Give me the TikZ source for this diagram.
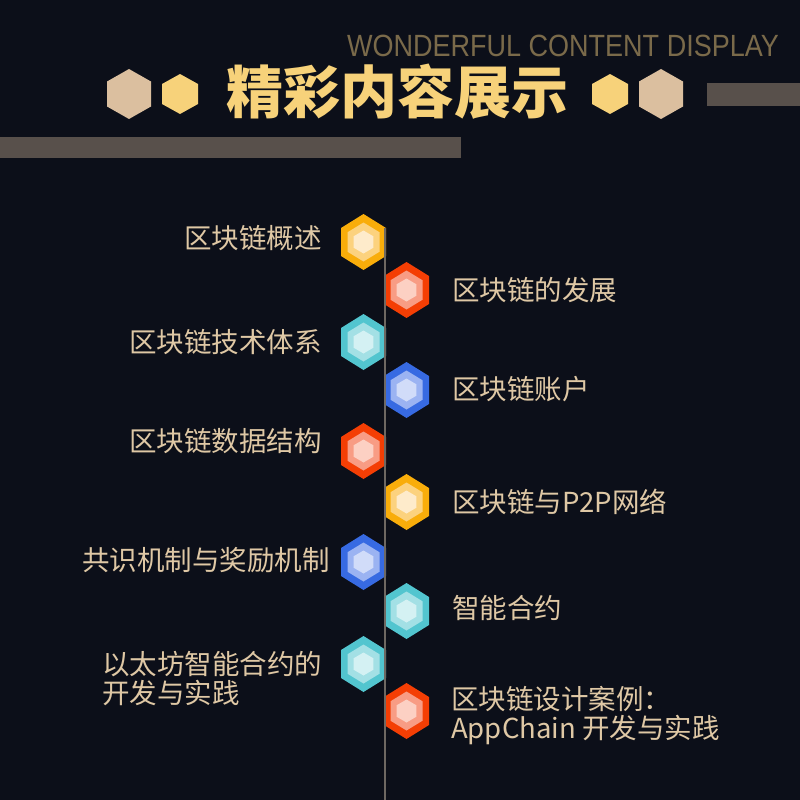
\documentclass[tikz,border=0pt]{standalone}
\usepackage{fontspec}
\setmainfont{Liberation Sans}
\newfontfamily\cjk{Noto Sans CJK SC}
\definecolor{bg}{HTML}{0C0F19}
\definecolor{engc}{HTML}{7A6A4A}
\definecolor{gold}{HTML}{F7D27A}
\definecolor{beige}{HTML}{DBBF9F}
\definecolor{barc}{HTML}{58504B}
\definecolor{linec}{HTML}{6E6862}
\definecolor{txtc}{HTML}{DFC8A5}
\definecolor{oA}{HTML}{F9AD0A}\definecolor{oB}{HTML}{FCD27E}\definecolor{oC}{HTML}{FEEBCB}
\definecolor{rA}{HTML}{F43E04}\definecolor{rB}{HTML}{F89C84}\definecolor{rC}{HTML}{FCD0C3}
\definecolor{cA}{HTML}{52C5CF}\definecolor{cB}{HTML}{A3E0E5}\definecolor{cC}{HTML}{D4F1F3}
\definecolor{bA}{HTML}{376AE2}\definecolor{bB}{HTML}{9BB3F2}\definecolor{bC}{HTML}{D1DCF9}
\newcommand\hexfill[5]{% color, cx, cy, halfwidth, halfheight
  \fill[#1,shift={(#2,#3)}] (0,-#5) -- (#4,-#5/2) -- (#4,#5/2) -- (0,#5) -- (-#4,#5/2) -- (-#4,-#5/2) -- cycle;}
\newcommand\hexmark[3]{% cx, cy, color prefix
  \hexfill{#3A}{#1}{#2}{22.5}{28}
  \hexfill{#3B}{#1}{#2}{16}{19.5}
  \hexfill{#3C}{#1}{#2}{9.8}{11.5}}
\tikzset{
  item/.style={font=\cjk\fontsize{27.5}{30}\selectfont, text=txtc, inner sep=0pt},
  leftitem/.style={item, anchor=base east},
  rightitem/.style={item, anchor=base west},
  blockline/.style={item, anchor=base west},
}
\begin{document}
\begin{tikzpicture}[x=1pt,y=-1pt]
\fill[bg] (0,0) rectangle (800,800);
\useasboundingbox (0,0) rectangle (800,800);
% header
\node[font=\fontsize{30.7}{32}\selectfont, text=engc, inner sep=0pt] (eng) at (563,46) {\scalebox{0.88}[1]{WONDERFUL CONTENT DISPLAY}};
\node[font=\cjk\bfseries\fontsize{57}{60}\selectfont, text=gold, inner sep=0pt] (title) at (397,92) {精彩内容展示};
\fill[barc] (0,137) rectangle (461,158);
\fill[barc] (707,83) rectangle (800,106);
\hexfill{beige}{129}{94}{22}{25}
\hexfill{gold}{180}{94}{18}{20}
\hexfill{gold}{610}{94}{18}{20}
\hexfill{beige}{661}{94}{22}{25}
% markers
\hexmark{363.5}{242}{o}
\hexmark{406.5}{290}{r}
\hexmark{363.5}{342}{c}
\hexmark{406.5}{390}{b}
\hexmark{363.5}{451}{r}
\hexmark{406.5}{502}{o}
\hexmark{363.5}{562}{b}
\hexmark{406.5}{611}{c}
\hexmark{363.5}{664}{c}
\hexmark{406.5}{711}{r}
% timeline
\coordinate (ltop) at (385,228);
\coordinate (lbot) at (385,800);
\draw[linec, line width=1.5pt] (ltop) -- (lbot);
% items
\node[leftitem] (t1) at (322,248) {区块链概述};
\node[rightitem] (t2) at (452,300) {区块链的发展};
\node[leftitem] (t3) at (322,352) {区块链技术体系};
\node[rightitem] (t4) at (452,399) {区块链账户};
\node[leftitem] (t5) at (322,451) {区块链数据结构};
\node[rightitem] (t6) at (452,512) {区块链与P2P网络};
\node[leftitem] (t7) at (330,570) {共识机制与奖励机制};
\node[rightitem] (t8) at (452,618) {智能合约};
\node[blockline] (t9a) at (102,674) {以太坊智能合约的};
\node[blockline] (t9b) at (102,703.5) {开发与实践};
\node[blockline] (t10a) at (451,709) {区块链设计案例：};
\node[blockline] (t10b) at (451,738.5) {AppChain 开发与实践};
\end{tikzpicture}
\end{document}
